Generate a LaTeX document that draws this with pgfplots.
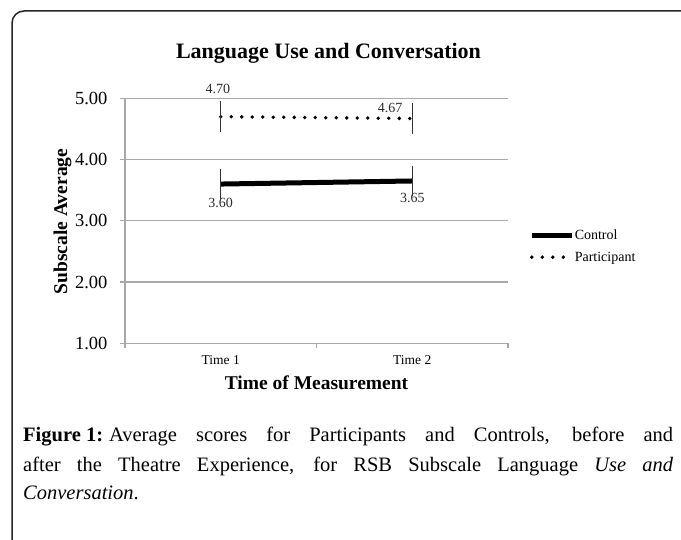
\documentclass[border=0pt]{standalone}
\usepackage{pgfplots}
\pgfplotsset{compat=1.18}
\usepackage{fontspec}
\setmainfont{Liberation Serif}
\definecolor{gridgray}{RGB}{168,168,168}
\definecolor{lblgray}{RGB}{45,45,45}
\begin{document}
\begin{tikzpicture}[x=1bp,y=1bp]
\useasboundingbox (0bp,0bp) rectangle (681bp,540bp);
\fill[white] (0bp,0bp) rectangle (681bp,540bp);
\draw[line width=1.5bp, black!85, rounded corners=12bp] (12bp,-5bp) -- (12bp,529bp) -- (690bp,529bp);
\begin{axis}[
  at={(125bp,196.7bp)}, anchor=south west,
  scale only axis, width=383bp, height=245bp,
  xmin=0, xmax=2, ymin=1, ymax=5,
  clip=false,
  axis lines*=left,
  axis line style={gridgray, line width=1.3bp},
  tick align=outside,
  major tick length=5bp,
  tick style={gridgray, line width=1.2bp},
  ytick={1,2,3,4,5},
  yticklabels={1.00,2.00,3.00,4.00,5.00},
  ymajorgrids,
  grid style={gridgray, line width=1.3bp},
  xtick={0,1,2},
  xticklabels={},
  extra x ticks={0.5,1.5},
  extra x tick labels={Time 1,Time 2},
  extra x tick style={major tick length=0pt, grid=none},
  yticklabel style={font=\fontsize{18.5bp}{20bp}\selectfont, text=black, xshift=-9bp},
  xticklabel style={font=\fontsize{13.5bp}{15bp}\selectfont, text=black, yshift=-9bp},
  legend style={at={(axis description cs:1.055,0.397)}, anchor=west, draw=none, fill=none,
    font=\fontsize{14bp}{16bp}\selectfont, row sep=9bp, inner sep=0pt,
    nodes={inner xsep=0.5bp, inner ysep=1bp}},
  legend cell align=left,
  legend image code/.code={\draw[#1] (0bp,0bp) -- (40bp,0bp);},
]
\addplot[black, line width=5bp, line cap=butt,
  error bars/.cd, y dir=both, y explicit, error mark=none,
  error bar style={solid, line width=1.3bp, black!80}]
  coordinates {(0.5,3.60) +- (0,0.25) (1.5,3.65) +- (0,0.25)};
\addlegendentry{Control}
\addplot[black, line width=3.8bp, line cap=round, dash pattern=on 0bp off 10.5bp,
  error bars/.cd, y dir=both, y explicit, error mark=none,
  error bar style={solid, line width=1.3bp, black!80, line cap=butt}]
  coordinates {(0.5,4.70) +- (0,0.25) (1.5,4.67) +- (0,0.25)};
\addlegendentry{Participant}
\node[text=lblgray, font=\fontsize{14bp}{16bp}\selectfont] at (axis cs:0.485,5.15) {4.70};
\node[text=lblgray, font=\fontsize{14bp}{16bp}\selectfont] at (axis cs:1.384,4.85) {4.67};
\node[text=lblgray, font=\fontsize{14bp}{16bp}\selectfont] at (axis cs:0.499,3.292) {3.60};
\node[text=lblgray, font=\fontsize{14bp}{16bp}\selectfont] at (axis cs:1.501,3.365) {3.65};
\end{axis}
\node[anchor=base, font=\bfseries\fontsize{22bp}{26bp}\selectfont] at (328.5bp,481.7bp) {Language Use and Conversation};
\node[anchor=base, font=\bfseries\fontsize{19.5bp}{23bp}\selectfont] at (316.5bp,150bp) {Time of Measurement};
\node[anchor=base, rotate=90, font=\bfseries\fontsize{19.5bp}{23bp}\selectfont] at (67bp,318.5bp) {Subscale Average};
\node[anchor=base west, inner sep=0pt, font=\fontsize{20.5bp}{24bp}\selectfont] at (23bp,98bp)
  {\makebox[650bp][s]{\mbox{\textbf{Figure 1:}}\hspace{6bp}Average scores for Participants and Controls, before and}};
\node[anchor=base west, inner sep=0pt, font=\fontsize{20.5bp}{24bp}\selectfont] at (23bp,68bp)
  {\makebox[650bp][s]{after the Theatre Experience, for RSB Subscale Language \textit{Use and}}};
\node[anchor=base west, inner sep=0pt, font=\fontsize{20.5bp}{24bp}\selectfont] at (23bp,40bp)
  {\textit{Conversation}.};
\end{tikzpicture}
\end{document}
